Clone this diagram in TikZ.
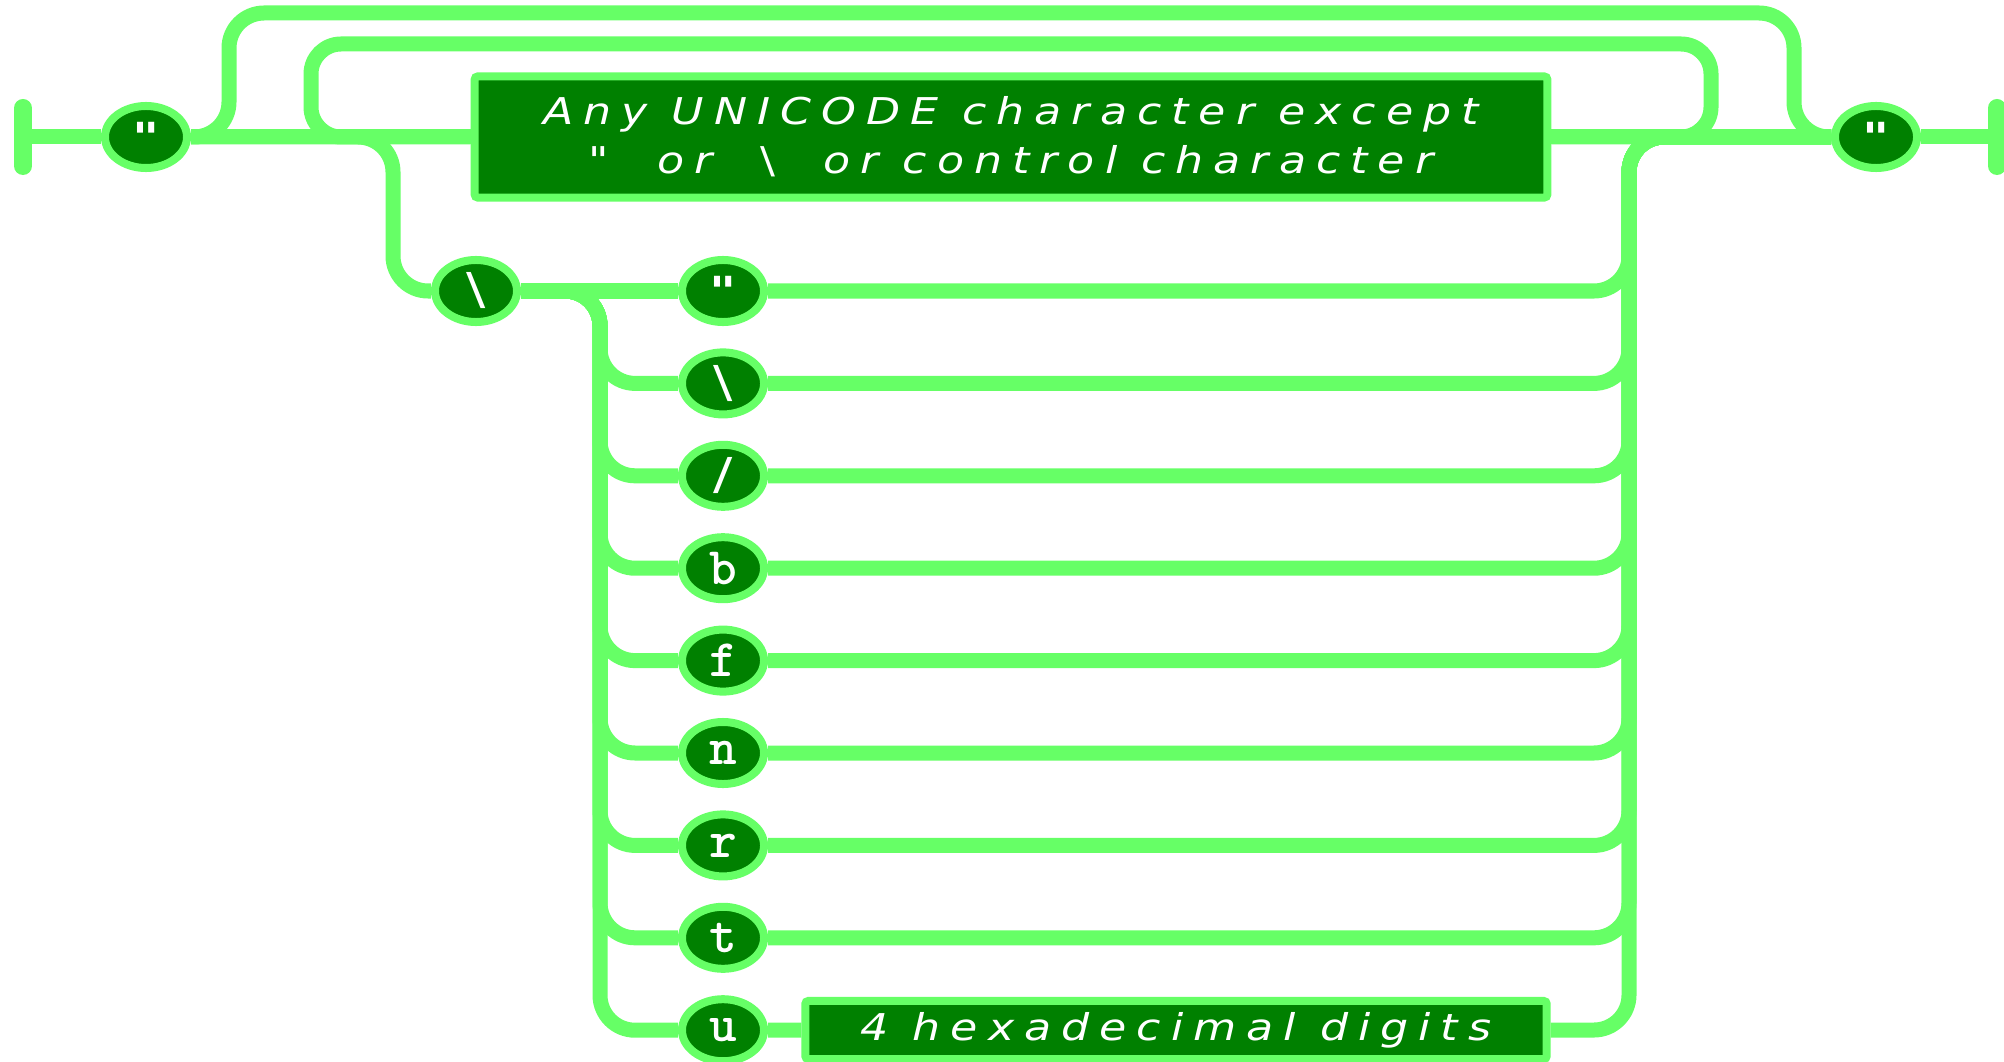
\documentclass[tikz,border=0pt]{standalone}
\usepackage{fontspec}
\usepackage{tikz}
\usetikzlibrary{shapes.geometric,backgrounds}
\newfontfamily\boxfont{DejaVu Sans}[LetterSpace=27,FakeStretch=1.2]
\newfontfamily\punctfont{DejaVu Sans}[FakeStretch=1.3]
\newcommand\slashsize{\fontsize{12.5}{13}\selectfont}
\newcommand\quotesize{\fontsize{11.4}{12}\selectfont}
\definecolor{railgreen}{HTML}{66FF66}
\definecolor{boxgreen}{HTML}{008000}

\begin{document}
\begin{tikzpicture}[x=0.01cm, y=-0.01cm,
  rail/.style={draw=railgreen, line width=0.15cm, rounded corners=0.35cm},
  token/.style={ellipse, draw=railgreen, fill=boxgreen, line width=0.08cm,
    minimum width=0.82cm, minimum height=0.62cm, inner sep=0pt, text=white,
    font=\ttfamily\bfseries\fontsize{15}{16}\selectfont},
  rule/.style={rectangle, draw=railgreen, fill=boxgreen, line width=0.08cm,
    rounded corners=0.03cm, inner sep=0pt, text=white, align=center,
    font=\boxfont\itshape\fontsize{10.5}{13.9}\selectfont}
]
\useasboundingbox (0,0) rectangle (2004,1061);

\coordinate (lbar) at (23,137);
\coordinate (rbar) at (1997,137);
\coordinate (drop) at (393,291);
\coordinate (lrail) at (600,291);
\coordinate (rrail) at (1629,137);

\node[token] (q1) at (146,137) {\punctfont\bfseries\quotesize "};
\node[rule, minimum width=10.72cm, minimum height=1.21cm] (uni) at (1011,137)
  {Any UNICODE character except\\
   {\upshape"}\ \ or\ \ {\upshape\textbackslash}\ \ or control character};
\node[token] (q2) at (1876,137) {\punctfont\bfseries\quotesize "};
\node[token] (esc) at (476,291) {\punctfont\mdseries\slashsize\textbackslash};
\foreach \lab [count=\k] in {{\punctfont\bfseries\quotesize "},{\punctfont\mdseries\slashsize\textbackslash},{\punctfont\mdseries\slashsize /},b,f,n,r,t,u}
  \node[token] (e\k) at (723,{291+92.4*(\k-1)}) {\lab};
\node[rule, minimum width=7.41cm, minimum height=0.58cm] (hex) at (1176,1030)
  {4 hexadecimal digits};

\begin{scope}[on background layer]
% main line
\draw[rail] (lbar) -- (q1);
\draw[rail] (q1) -- (uni);
\draw[rail] (uni) -- (q2);
\draw[rail] (q2) -- (rbar);
% empty string and repeat
\draw[rail] (q1.east) -| (229,13) -| (1794,137) -- (q2.west);
\draw[rail, rounded corners=0.3cm] (uni.east) -| (1711,44) -| (311,137) -- (uni.west);
% escapes
\draw[rail] (q1.east) -| (drop) -- (esc);
\draw[rail] (esc) -- (e1);
\foreach \k in {2,...,9}
  \draw[rail] (esc.east) -| (lrail |- e\k) -- (e\k);
\foreach \k in {1,...,8}
  \draw[rail] (e\k) -| (rrail) -- (q2.west);
\draw[rail] (e9) -- (hex);
\draw[rail] (hex) -| (rrail) -- (q2.west);
\end{scope}

\draw[rail, line width=0.18cm, line cap=round] (lbar) ++(0,-29) -- ++(0,58);
\draw[rail, line width=0.18cm, line cap=round] (rbar) ++(0,-29) -- ++(0,58);
\end{tikzpicture}
\end{document}
